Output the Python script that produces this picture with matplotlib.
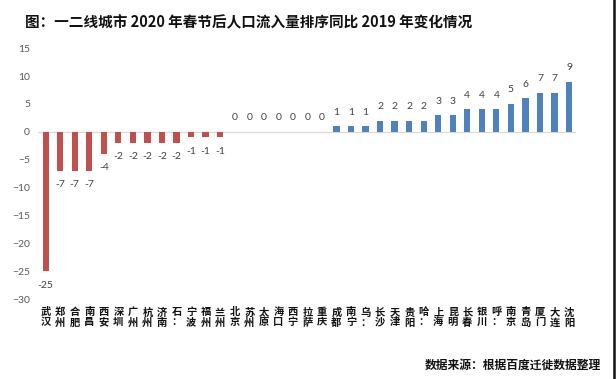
import matplotlib
matplotlib.use("Agg")
import matplotlib.pyplot as plt
from matplotlib.lines import Line2D

plt.rcParams['font.family'] = ['Noto Sans CJK SC', 'DejaVu Sans']

# city names (two characters each, drawn stacked) and rank change vs 2019
cities = ["武汉", "郑州", "合肥", "南昌", "西安", "深圳", "广州", "杭州", "济南",
          "石：", "宁波", "福州", "兰州",
          "北京", "苏州", "太原", "海口", "西宁", "拉萨", "重庆",
          "成都", "南宁", "乌：", "长沙", "天津", "贵阳", "哈：", "上海", "昆明",
          "长春", "银川", "呼：", "南京", "青岛", "厦门", "大连", "沈阳"]
changes = [-25, -7, -7, -7, -4, -2, -2, -2, -2, -2, -1, -1, -1,
           0, 0, 0, 0, 0, 0, 0,
           1, 1, 1, 2, 2, 2, 2, 3, 3, 4, 4, 4, 5, 6, 7, 7, 9]

title = "图：一二线城市 2020 年春节后人口流入量排序同比 2019 年变化情况"
source = "数据来源：根据百度迁徙数据整理"

fig = plt.figure(figsize=(6.16, 3.79), dpi=100)
ax = fig.add_axes([0.0623, 0.211, 0.8733, 0.662])

colors = ['#C0504D' if v < 0 else '#4F81BD' for v in changes]
x = list(range(len(cities)))
ax.bar(x, changes, width=0.43, color=colors, zorder=2)
ax.axhline(0, color='#D9D9D9', lw=0.9, zorder=1)

# data labels
for i, v in enumerate(changes):
    off = -10 if v < 0 else 10
    ax.annotate(str(v), (i, v), xytext=(0, off), textcoords='offset points',
                ha='center', va='center', fontsize=7.5, color='#404040',
                family='Lato')

ax.set_xlim(-0.5, len(cities) - 0.5)
ax.set_ylim(-30, 15)
ax.set_yticks(range(-30, 16, 5))
ax.set_xticks(x)
ax.set_xticklabels(['\n'.join(c) for c in cities], fontsize=7.4,
                   fontweight='bold', linespacing=1.0, color='#111111')
for lab in ax.get_yticklabels():
    lab.set_family('Lato')
ax.tick_params(axis='y', length=0, pad=6, labelsize=7.5, labelcolor='#595959')
ax.tick_params(axis='x', length=0, pad=6)
for s in ax.spines.values():
    s.set_visible(False)

fig.text(25 / 616, 1 - 22 / 379, title, fontsize=10.5, fontweight='bold',
         va='center', ha='left', color='#111111')
fig.text(425 / 616, 1 - 365 / 379, source, fontsize=8.5, fontweight='bold',
         va='center', ha='left', color='#111111')

# dark edge on the right side of the original screenshot
fig.add_artist(Line2D([0.9965, 0.9965], [0, 1], transform=fig.transFigure,
                      color='#111111', lw=1.8))

fig.savefig("out.png", dpi=100)
